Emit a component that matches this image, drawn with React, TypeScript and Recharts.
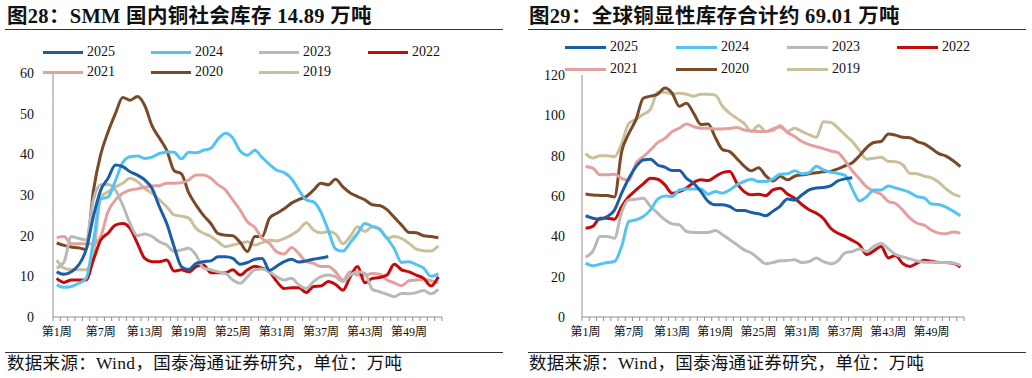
import React from 'react';
import { LineChart, Line, XAxis, YAxis } from 'recharts';

const weeks: number[] = Array.from({ length: 53 }, (_, i) => i + 1);
const weekLabels: string[] = weeks.map((w) => `第${w}周`);
const years = ['2025', '2024', '2023', '2022', '2021', '2020', '2019'];
const yearColors: Record<string, string> = {
  '2025': '#1B5EA6',
  '2024': '#55C3F2',
  '2023': '#B9B9B9',
  '2022': '#C40A0A',
  '2021': '#E3A09E',
  '2020': '#7A4A28',
  '2019': '#CBC09C',
};

// 图28 SMM 国内铜社会库存（万吨）
const smm2025 = [11.1, 10.5, 11.1, 12.8, 16.5, 24.7, 31.2, 34.1, 37.4, 37, 35.7, 34.9, 33.7, 31.6, 27.1, 23, 17.3, 12.4, 11.7, 13.2, 13.6, 13.8, 14.8, 14.8, 14.4, 13, 13.4, 14.2, 14.4, 11.5, 12.5, 13.6, 14.2, 13.5, 13.8, 14.2, 14.5, 14.89];
const smm2024 = [7.9, 7.3, 7.5, 8.3, 9.5, 18.5, 29, 29.5, 33.5, 38, 39.4, 39.6, 39, 39.3, 40.2, 40.6, 40.5, 38.9, 40.5, 40.4, 41, 41.5, 43.8, 45.2, 44, 40.8, 39.8, 41, 39.2, 37.5, 36.1, 35.5, 34, 31.2, 28.8, 28.3, 25.8, 21.3, 16.7, 16.2, 18.3, 20.6, 23, 22.3, 21.5, 19.4, 16.8, 13.4, 13.6, 12.9, 12, 10, 10.6];
const smm2023 = [12, 13.5, 19.8, 19.3, 19, 28.8, 32.5, 32.6, 31.2, 27.5, 23, 20, 20.4, 19.8, 18.5, 17.7, 16.1, 16.5, 16.9, 15.2, 12, 11.6, 11.1, 10.7, 9.1, 8.3, 9.9, 11.6, 11.8, 11.1, 9.9, 9.1, 9.5, 7.9, 7, 8.7, 9.9, 10.3, 9.9, 8.7, 10.3, 11.1, 10.7, 6.8, 6.2, 5.6, 5, 5.8, 5.7, 6, 6.5, 5.7, 6.8];
const smm2022 = [9.5, 8.5, 9.1, 9.1, 9.1, 14, 18.9, 20.6, 22.6, 23, 21.8, 18.1, 14.4, 13.6, 13.6, 14, 11.3, 11.6, 11.1, 12.4, 12.8, 10.9, 10.9, 10.9, 11.6, 10.3, 11.6, 12.5, 12, 11.1, 8.7, 7, 7.2, 7.2, 6, 7.5, 7.6, 8.7, 8, 6.6, 9.9, 12.4, 8.4, 9.5, 9.7, 10.3, 13, 11.6, 11.1, 10.3, 9.5, 7.6, 9.9];
const smm2021 = [19.5, 19.8, 18, 18, 18, 18, 19.8, 25.9, 28.8, 30.4, 31.2, 31.5, 31.9, 32.2, 32.3, 32.9, 32.9, 33, 33.7, 34.9, 34.9, 34.1, 32.5, 31.2, 28.8, 26.3, 23.4, 22, 19.3, 18.1, 16, 15.5, 17.1, 15.6, 13.6, 13.2, 12.4, 12.4, 11.1, 9.1, 11.1, 10.3, 10.3, 10.7, 10.5, 9.1, 8.4, 7.7, 8.9, 9.1, 9.3, 8.9, 8.4];
const smm2020 = [18.2, 17.6, 17.2, 17, 16.6, 31, 40, 45.5, 50, 54, 53.3, 54.2, 52, 47, 44, 41, 36, 35.2, 30.5, 27.5, 25, 23, 20.5, 20.1, 20, 18.3, 16.1, 19.8, 19.8, 24.3, 25.5, 26.6, 28, 28.9, 29.6, 31.2, 32.9, 32.5, 33.9, 32, 30.5, 29.6, 28.8, 27.6, 27.4, 26.4, 24.5, 22.6, 20.8, 20.7, 20, 19.8, 19.5];
const smm2019 = [14, 12, 11.6, 11.6, 11.6, 15, 29.5, 30.8, 32, 32.9, 34.1, 33.3, 31.6, 30.4, 28.8, 27.1, 25.1, 24.8, 24.3, 21.8, 20.6, 19.8, 18.5, 17.3, 17.7, 18.1, 18.5, 17.7, 18.3, 18.9, 18.7, 19.3, 20.2, 21.4, 23.2, 21.4, 20.7, 21, 20.4, 18, 19.8, 22.2, 21, 22.2, 21.8, 19.3, 19.8, 19.3, 18.1, 16.7, 16.3, 16.2, 17.5];

// 图29 全球铜显性库存（万吨）
const glb2025 = [50.2, 49, 48.5, 49.8, 53, 61.4, 68.8, 74.6, 77.9, 78.2, 75.4, 74.3, 72.6, 72.6, 68.8, 66.3, 62.2, 57.3, 55.6, 55.6, 54.8, 52.8, 52.8, 51.8, 51.2, 50.2, 52.5, 55, 58.5, 58, 60.5, 63, 64, 64.2, 65, 67.5, 68.5, 69.01];
const glb2024 = [26.7, 25.4, 26.2, 27, 27.5, 35, 47.4, 48.2, 49.8, 53.1, 58.4, 60, 59.7, 63, 63.5, 63.5, 63.5, 60.9, 62.2, 61.4, 63, 65.5, 67.2, 68.3, 67.2, 67.2, 68.5, 70.8, 71, 72.5, 71, 71.5, 74.8, 73, 71.8, 71.2, 70.2, 63.5, 57.5, 59.7, 63, 63, 65, 64, 63, 61.7, 59.7, 59, 56, 55.8, 54.5, 52.5, 50.2];
const glb2023 = [29.7, 32.5, 39.9, 39.9, 39.1, 52, 58.1, 58.4, 58.9, 54.8, 51.5, 48.2, 46.2, 45.7, 42.4, 41.9, 41.9, 41.9, 42.9, 40.8, 38.3, 35.8, 33.3, 31.7, 28.9, 26.4, 27, 27.9, 28, 28.4, 27, 27.5, 29.2, 27.5, 26.4, 27.8, 31.8, 32.5, 33.7, 32.5, 35, 36.6, 33.8, 31, 29.8, 28.8, 27.8, 27.2, 27.2, 27, 27, 26.8, 25.7];
const glb2022 = [44, 44.9, 49, 49, 48.5, 54.8, 59.7, 63, 66, 68.8, 68.3, 65.5, 61.4, 62.2, 63.9, 66.7, 68, 67.7, 69.6, 71.6, 72.1, 66.3, 62.2, 60.6, 60.9, 60.2, 63, 63.9, 61, 58.9, 55.8, 53.2, 51.5, 48.8, 44, 41.5, 40, 38, 35.8, 31, 32.8, 35, 29.3, 30.5, 26.5, 25.1, 26.7, 28.2, 27.6, 27, 27, 26.6, 24.8];
const glb2021 = [74.6, 73.8, 70.5, 70.5, 70.8, 68.8, 67.7, 76.2, 79.5, 82.8, 86.5, 88.6, 91.9, 93.6, 95.7, 94.4, 93.6, 93.6, 93.2, 93.2, 93.5, 94, 92.7, 92.2, 92, 92, 93.3, 94.2, 91.5, 89.5, 87, 85.5, 84.5, 83.5, 82.3, 81.5, 77.5, 72.5, 68.5, 64.5, 62.3, 60.8, 57.3, 56.3, 53, 49, 46.5, 45.5, 43, 41.6, 41.3, 42.2, 41.6];
const glb2020 = [61, 60.5, 60.3, 60.2, 59.5, 82, 91, 98, 108.5, 109.5, 110.5, 113.5, 111, 104.5, 106, 101, 95.5, 95.7, 89, 83, 82, 78.5, 74.8, 72.5, 74, 70, 67.5, 69.8, 68, 69.8, 70.5, 71, 71.5, 72, 72.2, 73.5, 75, 76.5, 80, 84, 86.5, 87, 90.8, 90.2, 89.1, 88.9, 87, 85.8, 83.5, 81, 79.8, 77.5, 74.6];
const glb2019 = [81, 78.8, 80, 80, 79.5, 86, 96, 98, 100.5, 103, 111.5, 111.5, 110.5, 111, 110.5, 109.5, 110.5, 110.5, 110, 104.5, 101, 98.5, 96, 92, 95, 92, 92.5, 95, 92, 93.6, 92, 90.4, 89.1, 96.8, 96.5, 93.8, 90.3, 87, 82.5, 78.3, 78.7, 79.2, 77.1, 77, 75.5, 71.2, 71, 69.8, 69, 66.8, 63.5, 61, 59.7];

const smmTicks = [0, 10, 20, 30, 40, 50, 60];
const glbTicks = [0, 20, 40, 60, 80, 100, 120];
const boundaryTicks: number[] = Array.from({ length: 54 }, (_, i) => i + 0.5);

const FONT = "'Liberation Serif', 'Times New Roman', 'Noto Sans CJK SC', serif";
const AXIS = '#8f8f8f';

function buildRows(series: Record<string, number[]>) {
  return weeks.map((w, i) => {
    const row: Record<string, number | null> = { week: w };
    years.forEach((y) => {
      const v = series[y][i];
      row[y] = v === undefined ? null : v;
    });
    return row;
  });
}

const smmRows = buildRows({ '2025': smm2025, '2024': smm2024, '2023': smm2023, '2022': smm2022, '2021': smm2021, '2020': smm2020, '2019': smm2019 });
const glbRows = buildRows({ '2025': glb2025, '2024': glb2024, '2023': glb2023, '2022': glb2022, '2021': glb2021, '2020': glb2020, '2019': glb2019 });

function makeTick(bandWidth: number) {
  return (props: any) => {
    const { x, y, payload } = props;
    const wk = payload.value + 0.5;
    if (wk > 53 || (wk - 1) % 6 !== 0) return <g />;
    return (
      <text x={x + bandWidth / 2} y={y} dy="0.71em" textAnchor="middle" fontSize={12} fill="#111" fontFamily={FONT}>
        {weekLabels[wk - 1]}
      </text>
    );
  };
}

type PanelProps = {
  rows: any[];
  yMax: number;
  yTicks: number[];
  margin: { top: number; right: number; bottom: number; left: number };
  yWidth: number;
  yTickMargin: number;
};

function Panel({ rows, yMax, yTicks, margin, yWidth, yTickMargin }: PanelProps) {
  const width = 516;
  const plotW = width - margin.left - margin.right - yWidth;
  const bw = plotW / 53;
  const drawOrder = [...years].reverse();
  return (
    <LineChart width={width} height={378} data={rows} margin={margin}>
      <XAxis
        dataKey="week"
        type="number"
        domain={[0.5, 53.5]}
        ticks={boundaryTicks}
        interval={0}
        height={30}
        tickSize={4}
        tickMargin={6}
        axisLine={{ stroke: AXIS, strokeWidth: 1 }}
        tickLine={{ stroke: AXIS, strokeWidth: 1 }}
        tick={makeTick(bw)}
        allowDataOverflow
      />
      <YAxis
        type="number"
        domain={[0, yMax]}
        ticks={yTicks}
        interval={0}
        width={yWidth}
        tickSize={0}
        tickMargin={yTickMargin}
        tickLine={false}
        axisLine={{ stroke: AXIS, strokeWidth: 1 }}
        tick={{ fontSize: 14, fill: '#111', fontFamily: FONT }}
      />
      {drawOrder.map((y) => (
        <Line
          key={y}
          dataKey={y}
          type="monotone"
          stroke={yearColors[y]}
          strokeWidth={3}
          dot={false}
          activeDot={false}
          isAnimationActive={false}
          connectNulls={false}
        />
      ))}
    </LineChart>
  );
}

function LegendBlock({ cols, rows, lineLen }: { cols: number[]; rows: number[]; lineLen: number }) {
  return (
    <>
      {years.map((y, i) => {
        const cx = cols[i % 4];
        const cy = rows[Math.floor(i / 4)];
        return (
          <div key={y} style={{ position: 'absolute', left: cx, top: cy - 9, height: 18, display: 'flex', alignItems: 'center' }}>
            <div style={{ width: lineLen, height: 3, background: yearColors[y] }} />
            <span style={{ marginLeft: 4, fontSize: 14, fontFamily: FONT, color: '#111', lineHeight: '18px' }}>{y}</span>
          </div>
        );
      })}
    </>
  );
}

const titleStyle: React.CSSProperties = {
  position: 'absolute',
  top: 4,
  height: 24,
  lineHeight: '24px',
  fontSize: 20.5,
  letterSpacing: 0.3,
  fontWeight: 'bold',
  color: '#111',
  whiteSpace: 'nowrap',
};

const footStyle: React.CSSProperties = {
  position: 'absolute',
  top: 353,
  lineHeight: '20px',
  fontSize: 17.5,
  letterSpacing: 0.3,
  color: '#111',
  whiteSpace: 'nowrap',
};

export default function App() {
  return (
    <div style={{ position: 'relative', width: 1032, height: 378, background: '#fff', overflow: 'hidden', fontFamily: FONT }}>
      <style>{`body{margin:0;}`}</style>
      <div style={{ ...titleStyle, left: 7 }}>图28：SMM 国内铜社会库存 14.89 万吨</div>
      <div style={{ ...titleStyle, left: 529 }}>图29：全球铜显性库存合计约 69.01 万吨</div>
      <div style={{ position: 'absolute', left: 5, top: 29, width: 498, height: 1, background: '#333' }} />
      <div style={{ position: 'absolute', left: 528, top: 29, width: 498, height: 1, background: '#333' }} />

      <div style={{ position: 'absolute', left: 0, top: 0 }}>
        <Panel rows={smmRows} yMax={60} yTicks={smmTicks} margin={{ top: 73, right: 74, bottom: 31, left: 0 }} yWidth={53} yTickMargin={19} />
      </div>
      <div style={{ position: 'absolute', left: 516, top: 0 }}>
        <Panel rows={glbRows} yMax={120} yTicks={glbTicks} margin={{ top: 75, right: 68, bottom: 31, left: 0 }} yWidth={66} yTickMargin={17} />
      </div>

      <LegendBlock cols={[43, 151, 259, 368]} rows={[52, 72]} lineLen={40} />
      <LegendBlock cols={[565, 676, 787, 897]} rows={[47, 69]} lineLen={41} />

      <div style={{ position: 'absolute', left: 5, top: 352, width: 498, height: 1, background: '#333' }} />
      <div style={{ position: 'absolute', left: 528, top: 352, width: 498, height: 1, background: '#333' }} />
      <div style={{ ...footStyle, left: 7 }}>数据来源：Wind，国泰海通证券研究，单位：万吨</div>
      <div style={{ ...footStyle, left: 529 }}>数据来源：Wind，国泰海通证券研究，单位：万吨</div>
    </div>
  );
}
